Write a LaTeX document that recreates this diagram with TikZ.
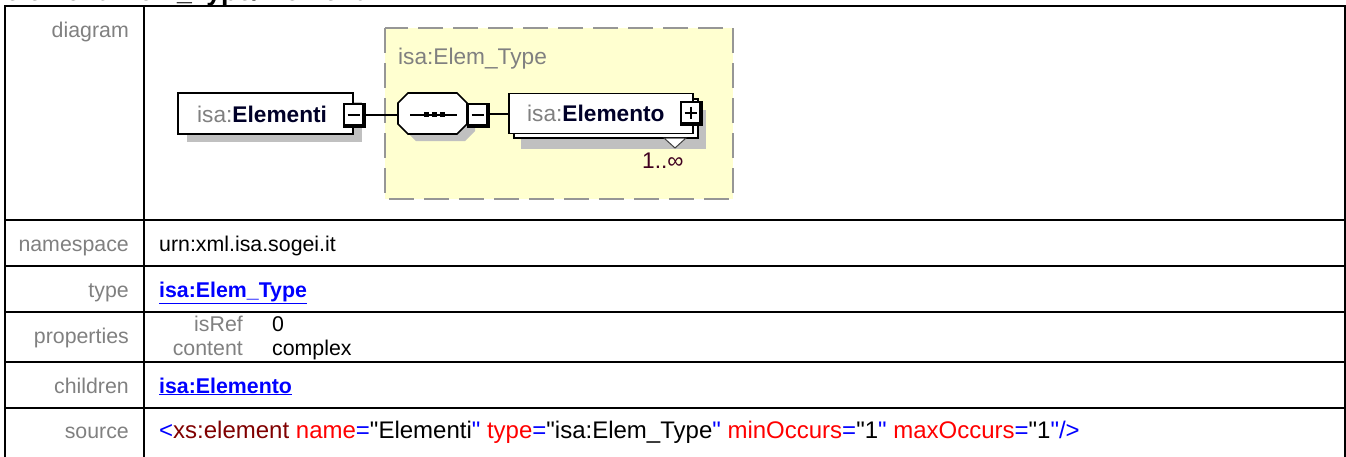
\documentclass[tikz,border=0pt]{standalone}
\usepackage{fontspec}
\setmainfont{Liberation Sans}
\usetikzlibrary{calc}
\definecolor{lblgray}{RGB}{128,128,128}
\definecolor{lnkblue}{RGB}{0,0,255}
\definecolor{srcred}{RGB}{255,0,0}
\definecolor{srcmaroon}{RGB}{128,0,0}
\definecolor{paleyel}{RGB}{255,255,208}
\definecolor{dashgray}{RGB}{150,150,150}
\definecolor{shadowgray}{RGB}{192,192,192}
\definecolor{elnavy}{RGB}{0,0,40}
\definecolor{occcol}{RGB}{64,0,32}
\newcommand\myTfont{\fontsize{21.33pt}{25pt}\selectfont}
\newcommand\myDfont{\fontsize{22.67pt}{26pt}\selectfont}
\newcommand\mySfont{\fontsize{24pt}{28pt}\selectfont}
\newcommand\myTitlefont{\fontsize{26.67pt}{30pt}\selectfont}
\newcommand\qq{\textquotedbl}
\tikzset{
  tblline/.style={line width=2pt, black},
  lbl/.style={anchor=base east, inner sep=0pt, text=lblgray, font=\myTfont},
  val/.style={anchor=base west, inner sep=0pt, text=black, font=\myTfont},
  lnk/.style={anchor=base west, inner sep=0pt, text=lnkblue, font=\myTfont\bfseries},
  elbox/.style={draw=black, fill=white, line width=1.6pt},
  shade/.style={fill=shadowgray, draw=none},
  conn/.style={draw=black, line width=2pt},
  sign/.style={draw=black, line width=2pt},
  eltext/.style={anchor=base west, inner sep=0pt, font=\myDfont, text=elnavy},
  pmframe/.pic={
    \fill[black] (0,0) rectangle (23,25);
    \fill[white] (2,2) rectangle (19,21);
    \coordinate (-east) at (23,11.5);
    \coordinate (-c) at (10.5,11.5);
  },
}
\begin{document}
\begin{tikzpicture}[x=1pt,y=-1pt]
\useasboundingbox (0,0) rectangle (1346,456);
\clip (0,0) rectangle (1346,456);
% cut-off title
\node[anchor=base west, inner sep=0pt, font=\myTitlefont\bfseries] (title) at (5,0) {element Elem\_Type/Elementi};
% table
\draw[tblline] (5,6) -- (1345,6);
\draw[tblline] (5,5) -- (5,460);
\draw[tblline] (144,6) -- (144,460);
\draw[tblline] (1345,5) -- (1345,460);
\foreach \yy in {220,266,312,362,408} { \draw[tblline] (5,\yy) -- (1345,\yy); }
% labels
\node[lbl] (ldiag) at (129,37) {diagram};
\node[lbl] (lns) at (129,251) {namespace};
\node[lbl] (ltype) at (129,297) {type};
\node[lbl] (lprop) at (129,343) {properties};
\node[lbl] (lchild) at (129,393) {children};
\node[lbl] (lsrc) at (129,438) {source};
% values
\node[val] (vns) at (159,251) {urn:xml.isa.sogei.it};
\node[lnk] (vtype) at (159,297) {\underline{isa:Elem\_Type}};
\node[lbl] (pisref) at (243,331) {isRef};
\node[val] (visref) at (272,331) {0};
\node[lbl] (pcont) at (243,355) {content};
\node[val] (vcont) at (272,355) {complex};
\node[lnk] (vchild) at (159,393) {\underline{isa:Elemento}};
\node[anchor=base west, inner sep=0pt, font=\mySfont] (vsrc) at (159,438) {\textcolor{lnkblue}{<}\textcolor{srcmaroon}{xs:element} \textcolor{srcred}{name}\textcolor{lnkblue}{=}\qq Elementi\textcolor{lnkblue}{\qq} \textcolor{srcred}{type}\textcolor{lnkblue}{=}\qq isa:Elem\_Type\textcolor{lnkblue}{\qq} \textcolor{srcred}{minOccurs}\textcolor{lnkblue}{=}\qq 1\textcolor{lnkblue}{\qq} \textcolor{srcred}{maxOccurs}\textcolor{lnkblue}{=}\qq 1\textcolor{lnkblue}{\qq/>}};
% ---------- diagram ----------
% complex type box
\draw[fill=paleyel, draw=dashgray, line width=2.5pt, dash pattern=on 25pt off 10pt] (385,28) rectangle (733,199);
\node[anchor=base west, inner sep=0pt, font=\myDfont, text=lblgray] (ctlabel) at (398,64) {isa:Elem\_Type};
% Elementi element
\fill[shade] (187,102) rectangle (362,142);
\node[elbox, minimum width=175pt, minimum height=41pt, inner sep=0pt] (elementi) at (265.5,113.5) {};
\node[eltext] (elementitxt) at (197,122) {\textcolor{lblgray}{isa:}\textbf{Elementi}};
\pic (m1) at (343,103) {pmframe};
\draw[sign] ($(m1-c)+(-6,0)$) -- ($(m1-c)+(6,0)$);
% sequence compositor
\fill[shade] (406,111) -- (416,101) -- (465,101) -- (475,111) -- (475,131) -- (465,141) -- (416,141) -- (406,131) -- cycle;
\draw[elbox] (398,103) -- (408,93) -- (457,93) -- (467,103) -- (467,124) -- (457,134) -- (408,134) -- (398,124) -- cycle;
\coordinate (seqW) at (398,114.5);
\draw[line width=2pt] (410,114.5) -- (457,114.5);
\foreach \xx in {426,434,442} { \fill[black] (\xx-2.5,112) rectangle (\xx+2.5,117); }
\pic (m2) at (467,103) {pmframe};
\draw[sign] ($(m2-c)+(-6,0)$) -- ($(m2-c)+(6,0)$);
% Elemento element (repeating)
\fill[shade] (521,110) rectangle (706,149);
\draw[elbox] (514,99) rectangle (698,138);
\node[elbox, minimum width=184pt, minimum height=40pt, inner sep=0pt] (elemento) at (601,113.5) {};
\node[eltext] (elementotxt) at (527,121) {\textcolor{lblgray}{isa:}\textbf{Elemento}};
\pic (p1) at (680,101) {pmframe};
\draw[sign] ($(p1-c)+(-6,0)$) -- ($(p1-c)+(6,0)$);
\draw[sign] ($(p1-c)+(0,-6)$) -- ($(p1-c)+(0,6)$);
\draw[fill=white, draw=black!75, line width=1pt] (664,138) -- (686,138) -- (675,148) -- cycle;
\node[anchor=base west, inner sep=0pt, font=\myDfont, text=occcol] (occ) at (642,168) {1..∞};
% connectors
\draw[conn] (m1-east) -- (seqW);
\draw[conn] (m2-east |- elemento.west) -- (elemento.west);
\end{tikzpicture}
\end{document}
